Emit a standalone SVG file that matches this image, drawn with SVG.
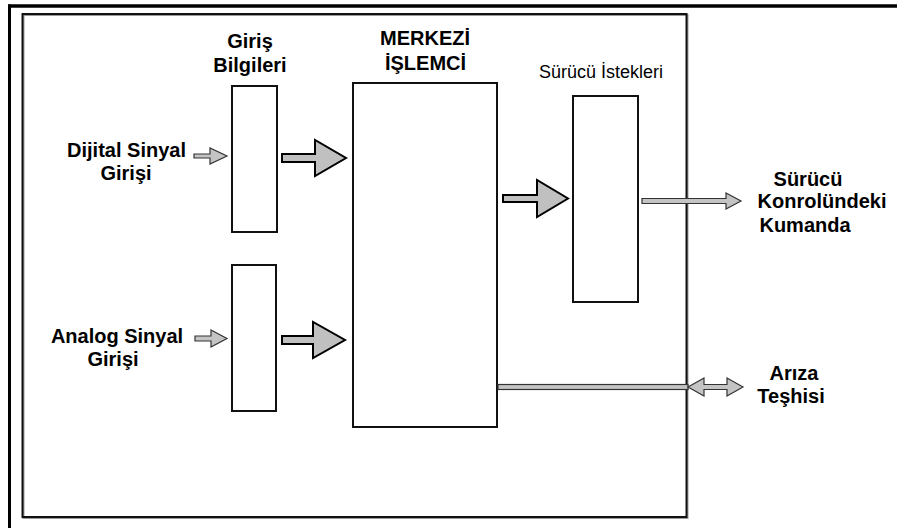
<svg xmlns="http://www.w3.org/2000/svg" width="897" height="528" viewBox="0 0 897 528">
<style>
.t{font-family:"Liberation Sans",Arial,sans-serif;font-weight:bold;font-size:20px;fill:#000}
.r{font-family:"Liberation Sans",Arial,sans-serif;font-size:18px;fill:#000}
.box{fill:#fff;stroke:#111;stroke-width:2}
.big{fill:#c0c0c0;stroke:#000;stroke-width:2;stroke-linejoin:miter}
.thin{fill:#c4c4c4;stroke:#333;stroke-width:1.2}
</style>
<rect width="897" height="528" fill="#fff"/>
<g id="frame">
<line x1="8" y1="6" x2="897" y2="6" stroke="#000" stroke-width="3.5"/>
<line x1="9.5" y1="4.5" x2="9.5" y2="528" stroke="#000" stroke-width="3"/>
<rect x="23.5" y="15" width="664" height="503" fill="none" stroke="#999" stroke-width="2"/>
<rect x="22.5" y="14" width="664" height="503" fill="none" stroke="#111" stroke-width="2"/>
</g>
<g id="giris-bilgileri-dijital">
<rect class="box" x="232" y="86" width="45" height="146"/>
</g>
<g id="giris-bilgileri-analog">
<rect class="box" x="232" y="265" width="44" height="146"/>
</g>
<g id="merkezi-islemci">
<rect class="box" x="353" y="83" width="144" height="344"/>
</g>
<g id="surucu-istekleri">
<rect class="box" x="573" y="96" width="65" height="206"/>
</g>
<g id="labels">
<text class="t" x="250" y="48" text-anchor="middle" font-size="19">Giriş</text>
<text class="t" x="250" y="72" text-anchor="middle" font-size="19">Bilgileri</text>
<text class="t" x="425" y="45" text-anchor="middle">MERKEZİ</text>
<text class="t" x="425.5" y="70" text-anchor="middle">İŞLEMCİ</text>
<text class="r" x="601" y="78" text-anchor="middle">Sürücü İstekleri</text>
<text class="t" x="126.5" y="157" text-anchor="middle">Dijital Sinyal</text>
<text class="t" x="126" y="180" text-anchor="middle">Girişi</text>
<text class="t" x="117" y="343" text-anchor="middle">Analog Sinyal</text>
<text class="t" x="113" y="366" text-anchor="middle">Girişi</text>
<text class="t" x="808" y="186" text-anchor="middle">Sürücü</text>
<text class="t" x="822" y="208" text-anchor="middle">Konrolündeki</text>
<text class="t" x="805" y="232" text-anchor="middle">Kumanda</text>
<text class="t" x="794" y="380" text-anchor="middle">Arıza</text>
<text class="t" x="791" y="403" text-anchor="middle">Teşhisi</text>
</g>
<g id="connectors">
<polygon class="thin" points="194,154 210,154 210,148 227,156 210,164 210,158 194,158"/>
<polygon class="thin" points="195,336 211,336 211,330 227,338.5 211,347 211,341 195,341"/>
<polygon class="big" points="282,154 315,154 315,140 346,158 315,176 315,162 282,162"/>
<polygon class="big" points="282,336 313,336 313,322 345,340 313,358 313,344 282,344"/>
<polygon class="big" points="503,195 537,195 537,180 568,198.5 537,217 537,202 503,202"/>
<polygon class="thin" points="642,198.5 726,198.5 726,193 741,201 726,209 726,203.5 642,203.5"/>
<rect class="thin" x="498" y="384.5" width="190" height="5"/>
<polygon class="thin" points="688,387 704,378 704,384.5 727,384.5 727,378 743,387 727,396 727,389.5 704,389.5 704,396"/>
</g>
</svg>
